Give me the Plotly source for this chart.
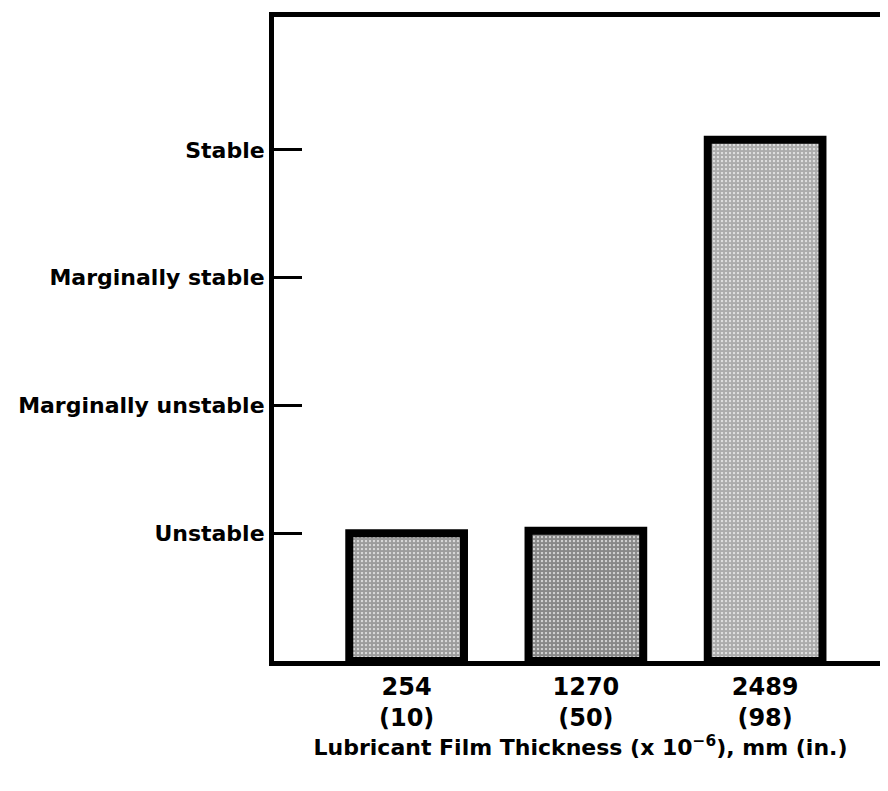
import plotly.graph_objects as go

categories = ["254<br>(10)", "1270<br>(50)", "2489<br>(98)"]
stability = [1.0, 1.02, 4.08]
stability_ticks = [1, 2, 3, 4]
stability_labels = ["Unstable", "Marginally unstable", "Marginally stable", "Stable"]
pattern_fg = ["#262626", "#181818", "#333333"]
pattern_bg = ["#9c9c9c", "#888888", "#acacac"]

xpos = list(range(len(categories)))

fig = go.Figure()
fig.add_trace(go.Bar(
    x=xpos, y=stability, width=0.64,
    marker=dict(
        color=pattern_bg,
        line=dict(color="black", width=8),
        pattern=dict(shape=".", fgcolor=pattern_fg, bgcolor=pattern_bg, size=4, solidity=0.8, fillmode="replace"),
    ),
    showlegend=False,
))

font_family = "'DejaVu Sans', sans-serif"
fig.update_layout(
    width=888, height=791,
    margin=dict(l=266, r=4, t=9, b=138),
    paper_bgcolor="white", plot_bgcolor="white",
    font=dict(family=font_family, color="black", size=24),
    bargap=0.3,
)
fig.update_xaxes(
    tickvals=xpos, ticktext=categories, range=[-0.74, 2.68],
    showline=True, linewidth=5, linecolor="black", mirror=True,
    ticks="", showgrid=False, zeroline=False,
    tickfont=dict(size=24, family=font_family, weight="bold"),
    title=dict(text="Lubricant Film Thickness (x 10<sup>−6</sup>), mm (in.)",
               font=dict(size=22, family=font_family, weight="bold"), standoff=8),
)
fig.update_yaxes(
    tickvals=stability_ticks, ticktext=stability_labels, range=[0, 5.04],
    showline=True, linewidth=5, linecolor="black", mirror=True,
    ticks="inside", ticklen=28, tickwidth=3, tickcolor="black",
    showgrid=False, zeroline=False,
    tickfont=dict(size=22, family=font_family, weight="bold"),
)
fig.write_html("out.html")
